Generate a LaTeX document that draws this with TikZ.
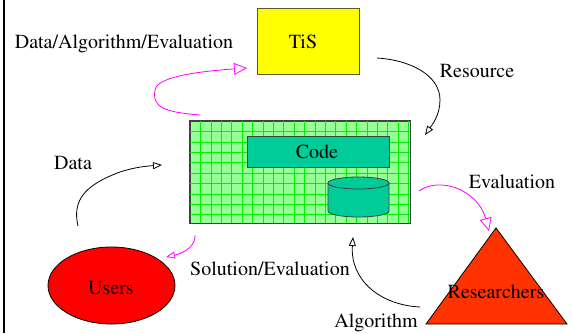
\documentclass[tikz,border=0pt]{standalone}
\usepackage[T1]{fontenc}
\usepackage{mathptmx}
\usetikzlibrary{arrows.meta,shapes.geometric}
\definecolor{tisyellow}{RGB}{255,255,0}
\definecolor{tisborder}{RGB}{90,90,40}
\definecolor{codeteal}{RGB}{0,204,153}
\definecolor{boxgreen}{RGB}{150,255,150}
\definecolor{gridgreen}{RGB}{0,240,0}
\definecolor{userred}{RGB}{255,0,0}
\definecolor{resred}{RGB}{255,51,0}
\definecolor{magentaline}{RGB}{255,0,255}
\tikzset{
  lbl/.style={inner sep=0pt, anchor=base, font=\fontsize{20}{24}\selectfont},
  boxshape/.style={draw=black!75, line width=0.8pt},
  blackarrow/.style={draw=black, line width=0.8pt, -{Triangle[open, length=9pt, width=7pt]}},
  pinkarrow/.style={draw=magentaline, line width=0.8pt, -{Triangle[open, length=13pt, width=12pt]}},
  pinksmall/.style={draw=magentaline, line width=0.8pt, -{Triangle[open, length=9pt, width=7pt]}},
}
\begin{document}
\begin{tikzpicture}[x=1pt,y=-1pt]
\useasboundingbox (0,0) rectangle (572,333);
% left border
\draw[line width=2pt] (4,0) -- (4,333);

% TiS box
\node[boxshape, draw=tisborder, fill=tisyellow, minimum width=102pt, minimum height=66pt, inner sep=0pt] (tis) at (308,41.5) {};
\node[lbl] (tistext) at (303,48) {TiS};

% green box with grid
\node[draw=black!75, line width=0.8pt, fill=boxgreen, minimum width=220pt, minimum height=102pt, inner sep=0pt] (sys) at (300,172) {};
\begin{scope}
\clip (190,121) rectangle (410,223);
\foreach \i in {1,...,21} {\draw[gridgreen, line width=0.5pt] (190+10.4*\i,121) -- (190+10.4*\i,223);}
\foreach \j in {1,...,9} {\draw[gridgreen, line width=0.5pt] (190,121+10.4*\j) -- (410,121+10.4*\j);}
\end{scope}
\draw[draw=black!75, line width=0.8pt] (sys.north west) rectangle (sys.south east);

% code box
\node[boxshape, fill=codeteal, minimum width=142pt, minimum height=31pt, inner sep=0pt] (code) at (318,151.5) {};
\node[lbl] (codetext) at (317,158) {Code};

% cylinder
\draw[boxshape, fill=codeteal] (328,183) -- (328,211) arc[start angle=180, end angle=0, x radius=30.5, y radius=6] -- (389,183) -- cycle;
\draw[boxshape, fill=codeteal] (358.5,183) ellipse [x radius=30.5, y radius=6];
\coordinate (db) at (358.5,200);

% Users ellipse
\node[draw=black, line width=0.8pt, fill=userred, ellipse, minimum width=127pt, minimum height=77pt, inner sep=0pt] (users) at (111.5,285.5) {};
\node[lbl] (userstext) at (111,294) {Users};

% Researchers triangle
\draw[draw=black, line width=0.8pt, fill=resred] (496,228) -- (567,324) -- (426,324) -- cycle;
\coordinate (res) at (496,290);
\node[lbl] (restext) at (496,298) {Researchers};

% labels
\node[lbl] (l1) at (124,48) {Data/Algorithm/Evaluation};
\node[lbl] (l2) at (477,77) {Resource};
\node[lbl] (l3) at (73,169) {Data};
\node[lbl] (l4) at (270,275) {Solution/Evaluation};
\node[lbl] (l5) at (512,188) {Evaluation};
\node[lbl] (l6) at (376,327) {Algorithm};

% connector end points
\coordinate (a1s) at (200,115);
\coordinate (a1e) at (247,68);
\coordinate (a2s) at (377,58);
\coordinate (a2e) at (425,135);
\coordinate (a3s) at (78,226);
\coordinate (a3e) at (162,165);
\coordinate (a4s) at (195,235);
\coordinate (a4e) at (166,257);
\coordinate (a5s) at (419,191);
\coordinate (a5e) at (489,231);
\coordinate (a6s) at (420,307);
\coordinate (a6e) at (353,237);

% connectors
\draw[pinkarrow] (a1s) .. controls (165,112) and (152,108) .. (155,90) .. controls (157,78) and (190,72) .. (a1e);
\draw[blackarrow] (a2s) .. controls (410,60) and (440,75) .. (440,100) .. controls (440,115) and (432,125) .. (a2e);
\draw[blackarrow] (a3s) .. controls (72,200) and (85,185) .. (120,172) .. controls (135,167) and (148,166) .. (a3e);
\draw[pinksmall] (a4s) .. controls (196,246) and (184,253) .. (a4e);
\draw[pinkarrow] (a5s) .. controls (440,176) and (478,190) .. (a5e);
\draw[blackarrow] (a6s) .. controls (380,305) and (350,280) .. (a6e);
\end{tikzpicture}
\end{document}
